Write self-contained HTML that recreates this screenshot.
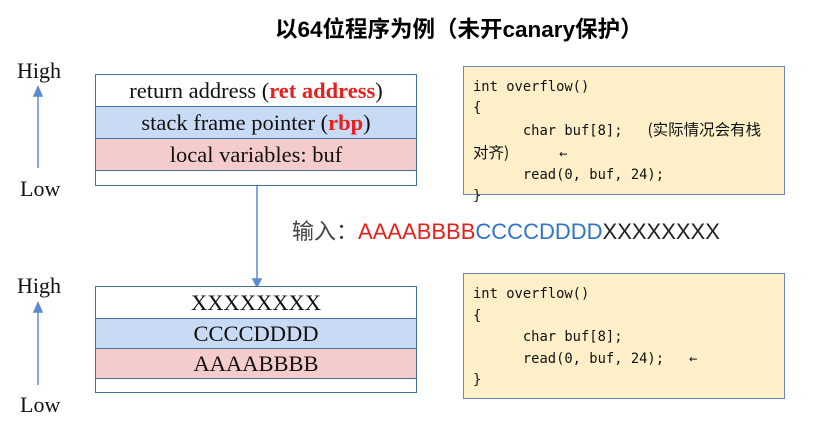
<!DOCTYPE html>
<html><head><meta charset="utf-8"><style>
body{margin:0;width:822px;height:431px;background:#fff;position:relative;overflow:hidden;font-family:"Liberation Serif","Noto Serif CJK SC",serif}
.a{position:absolute}
.box{position:absolute;left:95px;width:322px;border:1.5px solid #41719c;box-sizing:border-box}
.row{box-sizing:border-box;border-bottom:1.5px solid #41719c;text-align:center;font-size:22.5px;color:#111}
.w{background:#fff}.b{background:#c9daf5}.p{background:#f4cccc}
.red{color:#e8201c;font-weight:bold}
.code{position:absolute;left:463px;width:322px;background:#fdf0c8;border:1.5px solid #6c87b8;box-sizing:border-box;font-family:"DejaVu Sans Mono","Noto Sans CJK SC",monospace;font-size:13.8px;color:#111;padding:10px 9px;line-height:21px;white-space:pre}
.cj{font-family:"Noto Sans CJK SC",sans-serif;font-size:15.5px}
.lbl{position:absolute;font-size:22px;color:#111}
</style></head><body>
<div class="a" style="left:275px;top:12px;white-space:nowrap;font-family:'Liberation Sans','Noto Sans CJK SC',sans-serif;font-weight:bold;font-size:22.5px">以64位程序为例（未开canary保护）</div>

<div class="lbl" style="left:17px;top:58px">High</div>
<div class="lbl" style="left:20px;top:176px">Low</div>
<div class="lbl" style="left:17px;top:273px">High</div>
<div class="lbl" style="left:20px;top:392px">Low</div>
<svg class="a" style="left:0;top:0" width="822" height="431">
<g stroke="#5b8bd0" stroke-width="1.5" fill="#5b8bd0">
<line x1="38" y1="168" x2="38" y2="95"/><polygon points="34,96 42,96 38,87"/>
<line x1="38" y1="385" x2="38" y2="311"/><polygon points="34,312 42,312 38,303"/>
<line x1="257" y1="185" x2="257" y2="280"/><polygon points="253,279 261,279 257,287"/>
</g></svg>

<div class="box" style="top:74px;height:112px">
<div class="row w" style="height:32px;line-height:31px">return address (<span class="red">ret address</span>)</div>
<div class="row b" style="height:32px;line-height:31px">stack frame pointer (<span class="red">rbp</span>)</div>
<div class="row p" style="height:32px;line-height:31px">local variables: buf</div>
</div>
<div class="box" style="top:286px;height:107px">
<div class="row w" style="height:32px;line-height:31px">XXXXXXXX</div>
<div class="row b" style="height:30px;line-height:30px">CCCCDDDD</div>
<div class="row p" style="height:30px;line-height:29px">AAAABBBB</div>
</div>

<div class="code" style="top:66px;height:129px">int overflow()
{
      char buf[8];   <span class="cj">(实际情况会有栈</span>
<span class="cj">对齐)</span>      ←
      read(0, buf, 24);
}</div>
<div class="code" style="top:273px;height:126px;line-height:21.5px">int overflow()
{
      char buf[8];
      read(0, buf, 24);   ←
}</div>

<div class="a" style="left:292px;top:214px;font-family:'Liberation Sans','Noto Sans CJK SC',sans-serif;font-size:22px;color:#444;white-space:nowrap">输入：<span style="color:#e8201c">AAAABBBB</span><span style="color:#2e75c8">CCCCDDDD</span><span style="color:#222">XXXXXXXX</span></div>
</body></html>
